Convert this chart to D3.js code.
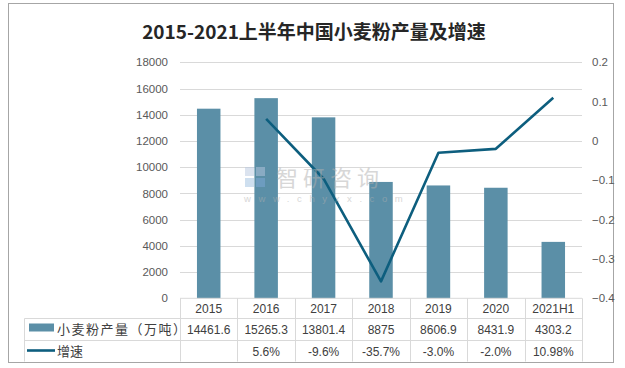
<!DOCTYPE html>
<html><head><meta charset="utf-8">
<script src="https://cdn.jsdelivr.net/npm/d3@7/dist/d3.min.js"></script>
<style>body{margin:0;background:#fff;}svg{display:block;font-family:"Liberation Sans","Noto Sans CJK SC",sans-serif;}</style>
</head><body><svg id="c" width="625" height="368"></svg>
<script>
const categories = ["2015","2016","2017","2018","2019","2020","2021H1"];
const output = [14461.6,15265.3,13801.4,8875,8606.9,8431.9,4303.2];
const growth = [null,0.056,-0.096,-0.357,-0.030,-0.020,0.1098];
const outputLabels = ["14461.6","15265.3","13801.4","8875","8606.9","8431.9","4303.2"];
const growthLabels = ["","5.6%","-9.6%","-35.7%","-3.0%","-2.0%","10.98%"];
const leftTicks = [0,2000,4000,6000,8000,10000,12000,14000,16000,18000];
const rightTicks = [-0.4,-0.3,-0.2,-0.1,0,0.1,0.2];
const seriesNames = ["小麦粉产量（万吨）","增速"];
const titleNum = "2015-2021";
const titleText = "上半年中国小麦粉产量及增速";

const barColor = "#5B8FA7", lineColor = "#0D5E7E", gridColor = "#D9D9D9", textColor = "#595959";
const svg = d3.select("#c");
const L = 180, R = 582, T = 62.3, B = 298.3;

// outer border
svg.append("rect").attr("x",8.5).attr("y",3.5).attr("width",605).attr("height",359).attr("fill","#fff").attr("stroke","#A6A6A6").attr("stroke-width",1);

const tt = svg.append("text").attr("x",314).attr("y",39).attr("text-anchor","middle")
  .attr("font-size",19).attr("fill","#262626")
  .attr("font-family","'Noto Sans CJK SC',sans-serif");
tt.append("tspan").attr("font-weight","bold").text(titleNum);
tt.append("tspan").attr("font-weight","bold").text(titleText);

const x = d3.scaleBand().domain(categories).range([L,R]).paddingInner(0).paddingOuter(0);
const y = d3.scaleLinear().domain([0,18000]).range([B,T]);
const y2 = d3.scaleLinear().domain([-0.4,0.2]).range([B,T]);

// gridlines
svg.append("g").selectAll("line").data(leftTicks.filter(d=>d>0)).join("line")
  .attr("x1",L).attr("x2",R).attr("y1",d=>Math.round(y(d))+0.5).attr("y2",d=>Math.round(y(d))+0.5)
  .attr("stroke",gridColor).attr("stroke-width",1);

// left axis
const gl = svg.append("g").attr("transform",`translate(${L},0)`)
  .call(d3.axisLeft(y).tickValues(leftTicks).tickSize(0).tickPadding(12).tickFormat(d3.format("d")));
gl.select(".domain").remove();
gl.selectAll("text").attr("font-size",11.5).attr("fill",textColor).attr("font-family","'Liberation Sans',sans-serif");

// right axis
const gr = svg.append("g").attr("transform",`translate(${R},0)`)
  .call(d3.axisRight(y2).tickValues(rightTicks).tickSize(0).tickPadding(10).tickFormat(d=>d===0?"0":d3.format(".1f")(d)));
gr.select(".domain").remove();
gr.selectAll("text").attr("font-size",11.5).attr("fill",textColor).attr("font-family","'Liberation Sans',sans-serif");

// bars
const bw = 23.5;
svg.append("g").selectAll("rect").data(categories).join("rect")
  .attr("x",d=>x(d)+x.bandwidth()/2-bw/2).attr("width",bw)
  .attr("y",(d,i)=>y(output[i])).attr("height",(d,i)=>B-y(output[i]))
  .attr("fill",barColor);

// line
const pts = categories.map((c,i)=>({c,v:growth[i]})).filter(d=>d.v!==null);
svg.append("path").datum(pts)
  .attr("d",d3.line().x(d=>x(d.c)+x.bandwidth()/2).y(d=>y2(d.v)))
  .attr("fill","none").attr("stroke",lineColor).attr("stroke-width",2.6).attr("stroke-linejoin","round");

// watermark (on top, translucent)
const wm = svg.append("g").attr("opacity",0.5);
wm.append("rect").attr("x",245).attr("y",167).attr("width",9).attr("height",9).attr("fill","#B8C8E0");
wm.append("rect").attr("x",256).attr("y",167).attr("width",9).attr("height",9).attr("fill","#B8C8E0");
wm.append("rect").attr("x",245).attr("y",178).attr("width",9).attr("height",9).attr("fill","#9FC0E0");
wm.append("rect").attr("x",256).attr("y",178).attr("width",9).attr("height",9).attr("fill","#7FAAD8");
wm.append("text").attr("x",276).attr("y",186).attr("font-size",22).attr("fill","#B0B0B0")
  .attr("font-family","'Noto Sans CJK SC',sans-serif").attr("letter-spacing",5).text("智研咨询");
wm.append("text").attr("x",244).attr("y",202).attr("font-size",9.5).attr("fill","#B0B0B0")
  .attr("letter-spacing",7.6).text("www.chyxx.com");

// data table
const tb = svg.append("g");
const rowY = [B, 318.5, 340.5, 362.5];
const tLeft = 24.5;
tb.append("line").attr("x1",L).attr("x2",R).attr("y1",B).attr("y2",B).attr("stroke",gridColor);
tb.append("line").attr("x1",tLeft).attr("x2",R).attr("y1",rowY[1]).attr("y2",rowY[1]).attr("stroke",gridColor);
tb.append("line").attr("x1",tLeft).attr("x2",R).attr("y1",rowY[2]).attr("y2",rowY[2]).attr("stroke",gridColor);
const vx = categories.map(c=>x(c)).concat([R]);
tb.selectAll("line.v").data(vx).join("line").attr("class","v")
  .attr("x1",d=>Math.round(d)+0.5).attr("x2",d=>Math.round(d)+0.5).attr("y1",B).attr("y2",rowY[3]-1)
  .attr("stroke",gridColor);
tb.append("line").attr("x1",tLeft).attr("x2",tLeft).attr("y1",rowY[1]).attr("y2",rowY[3]-1).attr("stroke",gridColor);

const tf = "'Liberation Sans','Noto Sans CJK SC',sans-serif";
tb.selectAll("text.h").data(categories).join("text").attr("class","h")
  .attr("x",d=>x(d)+x.bandwidth()/2).attr("y",312.5).attr("text-anchor","middle")
  .attr("font-size",12).attr("fill","#404040").attr("font-family",tf).text(d=>d);
tb.selectAll("text.o").data(categories).join("text").attr("class","o")
  .attr("x",d=>x(d)+x.bandwidth()/2).attr("y",334).attr("text-anchor","middle")
  .attr("font-size",12).attr("fill","#404040").attr("font-family",tf).text((d,i)=>outputLabels[i]);
tb.selectAll("text.g").data(categories).join("text").attr("class","g")
  .attr("x",d=>x(d)+x.bandwidth()/2).attr("y",356).attr("text-anchor","middle")
  .attr("font-size",12).attr("fill","#404040").attr("font-family",tf).text((d,i)=>growthLabels[i]);

tb.append("rect").attr("x",29).attr("y",323.5).attr("width",25).attr("height",8).attr("fill",barColor);
tb.append("line").attr("x1",27).attr("x2",55).attr("y1",350.5).attr("y2",350.5).attr("stroke",lineColor).attr("stroke-width",2.6);
tb.append("text").attr("x",57).attr("y",333.5).attr("font-size",13).attr("fill","#404040")
  .attr("font-family","'Noto Sans CJK SC',sans-serif").attr("letter-spacing",1.5).text(seriesNames[0]);
tb.append("text").attr("x",57).attr("y",355.5).attr("font-size",13).attr("fill","#404040")
  .attr("font-family","'Noto Sans CJK SC',sans-serif").text(seriesNames[1]);
</script></body></html>
